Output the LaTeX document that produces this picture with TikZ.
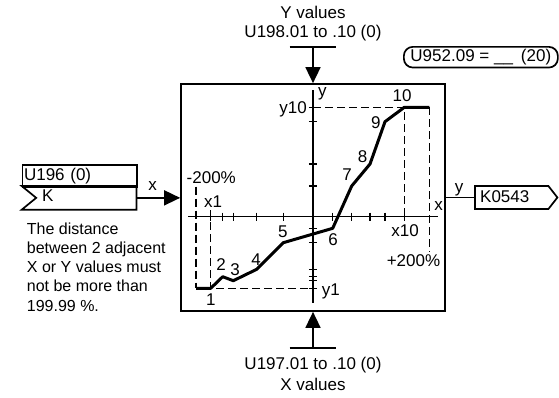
\documentclass[tikz,border=0pt]{standalone}
\usepackage{fontspec}
\setmainfont{Liberation Sans}
\usetikzlibrary{positioning,arrows.meta,calc}

\begin{document}
\begin{tikzpicture}[x=1pt, y=-1pt, font=\fontsize{17}{19.2}\selectfont,
  frame/.style={draw, line width=1.7pt},
  arr/.style={-{Triangle[length=16pt,width=15pt]}, line width=1.6pt},
  axis/.style={line width=1.5pt},
  guide/.style={line width=1.5pt, dash pattern=on 8pt off 4pt},
  curve/.style={line width=3pt, line join=round},
  lbl/.style={inner sep=0pt, anchor=base}]
\useasboundingbox (0,0) rectangle (559,397);
\node[frame, minimum width=264pt, minimum height=227pt] (blk) at (313,197.5) {};
\coordinate (ybar) at (313,46.7);
\coordinate (xbar) at (313,348);
\draw[line width=1.6pt] ($(ybar)+(-23.3,0)$) -- ($(ybar)+(23.3,0)$);
\draw[line width=1.6pt] ($(xbar)+(-23.3,0)$) -- ($(xbar)+(23.3,0)$);
\draw[arr] (ybar) -- (blk.north);
\draw[arr] (xbar) -- (blk.south);
\node[lbl] (ytitle) at (313,18) {Y values};
\node[lbl] (ypar) at (313,37.3) {U198.01 to .10 (0)};
\node[lbl] (xpar) at (313,369.3) {U197.01 to .10 (0)};
\node[lbl] (xtitle) at (313,390.7) {X values};
\node[frame, rounded corners=9pt, minimum width=154pt, minimum height=20.7pt, inner sep=0pt, anchor=north west] (sel) at (403,46) {U952.09 = \_\_\hspace{8pt}(20)};
\node[frame, minimum width=114.3pt, minimum height=22pt, inner sep=1.5pt, text width=111.3pt, align=left, anchor=north west] (upar) at (21.7,164) {U196 (0)};
\node[minimum width=114.3pt, minimum height=23.3pt, inner sep=0pt, anchor=north west] (kin) at (21.7,186) {};
\draw[line width=1.7pt] (kin.north west) -- (kin.north east) -- (kin.south east) -- (kin.south west) -- ($(kin.west)+(14.5,0)$) -- cycle;
\node[lbl, anchor=base west] (ktxt) at (42,201.7) {K};
\draw[arr] (kin.east) -- (kin.east -| blk.west);
\node[lbl] (xin) at (152.7,190) {x};
\node[inner sep=0pt, anchor=north west, align=left, font=\fontsize{16}{19.2}\selectfont] (note) at (26.7,222.4) {The distance\\between 2 adjacent\\X or Y values must\\not be more than\\199.99 \%.};
\node[minimum width=73pt, minimum height=22.6pt, inner sep=0pt, anchor=west] (kout) at (475,197.5) {};
\draw[line width=1.7pt] (kout.north west) -- (kout.north east) -- ($(kout.east)+(9,0)$) -- (kout.south east) -- (kout.south west) -- cycle;
\node[lbl, anchor=base west] (kouttxt) at (480,202.3) {K0543};
\draw[line width=1.6pt] (blk.east) -- (blk.east -| kout.west);
\node[lbl] (yout) at (459,192.7) {y};
\foreach \n/\px/\py in {1/210.7/288.3, 2/222.7/276.7, 3/233.3/280.7, 4/256.7/269.3, 5/283.3/242.7,
  6/332.7/228.3, 7/351.7/186, 8/370/164, 9/385/121.7, 10/404.3/107.3}{
  \coordinate (p\n) at (\px,\py);
  \draw[axis] (\px,212.5) -- (\px,220.9);
  \draw[axis] (308.8,\py) -- (317.2,\py);
}
\draw[axis] (188,216.7) -- (438,216.7);
\draw[axis] (313,90) -- (313,303);
\draw[guide] (196,186.7) -- (196,288.3);
\draw[guide] (210.7,210) -- (p1) -- (p1 -| 313,0);
\draw[guide] (313,107.3) -- (p10) -- (404.3,216.7);
\draw[guide] (429.3,107.3) -- (429.3,251.7);
\draw[curve] (196,288.3) -- (p1) -- (p2) -- (p3) -- (p4) -- (p5) -- (p6) -- (p7) -- (p8) -- (p9) -- (p10) -- (429.3,107.3);
\foreach \n/\lx/\ly in {1/210.8/305, 2/221/270.7, 3/235/275, 4/256/265, 5/282.8/237.3,
  6/333/245, 7/347/180.7, 8/362.5/162.3, 9/375.8/128.3, 10/402/101.7}
  \node[lbl] (n\n) at (\lx,\ly) {\n};
\node[lbl] (minus) at (211.3,183.3) {-200\%};
\node[lbl] (plus) at (413.5,266.7) {+200\%};
\node[lbl] (xone) at (213,207.3) {x1};
\node[lbl] (xten) at (405,236.7) {x10};
\node[lbl, anchor=base east] (yten) at (307,113.3) {y10};
\node[lbl, anchor=base west] (yone) at (321.7,295) {y1};
\node[lbl, anchor=base west] (yax) at (318,96.7) {y};
\node[lbl] (xax) at (438.5,210) {x};
\end{tikzpicture}
\end{document}
